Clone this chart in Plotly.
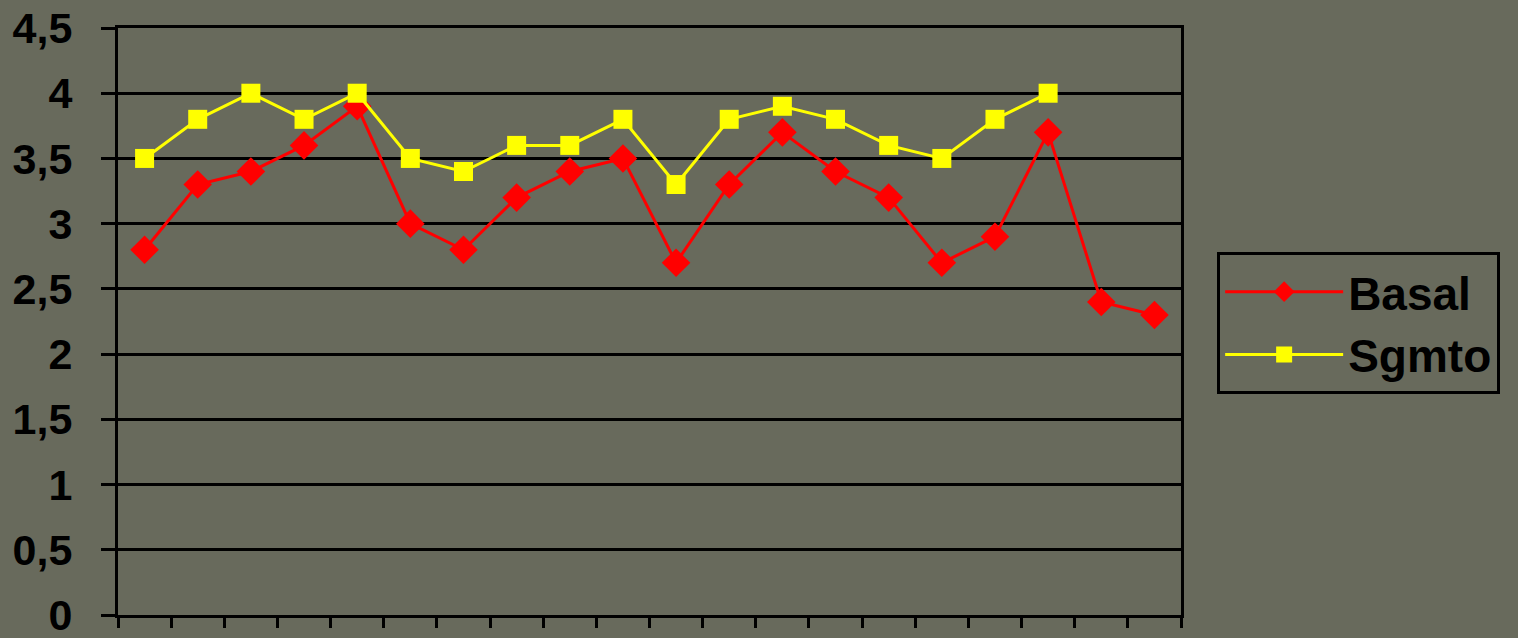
import plotly.graph_objects as go

categories = list(range(1, 21))
basal = [2.8, 3.3, 3.4, 3.6, 3.9, 3.0, 2.8, 3.2, 3.4, 3.5, 2.7, 3.3, 3.7, 3.4, 3.2, 2.7, 2.9, 3.7, 2.4, 2.3]
sgmto = [3.5, 3.8, 4.0, 3.8, 4.0, 3.5, 3.4, 3.6, 3.6, 3.8, 3.3, 3.8, 3.9, 3.8, 3.6, 3.5, 3.8, 4.0, None, None]
y_ticks = [0, 0.5, 1, 1.5, 2, 2.5, 3, 3.5, 4, 4.5]
y_labels = ["0", "0,5", "1", "1,5", "2", "2,5", "3", "3,5", "4", "4,5"]

BG = "#686A5C"
fig = go.Figure()
fig.add_trace(go.Scatter(
    x=categories, y=basal, name="Basal", mode="lines+markers",
    line=dict(color="#FF0000", width=3),
    marker=dict(symbol="diamond", size=22, color="#FF0000"),
))
fig.add_trace(go.Scatter(
    x=categories, y=sgmto, name="Sgmto", mode="lines+markers",
    line=dict(color="#FFFF00", width=3),
    marker=dict(symbol="square", size=19, color="#FFFF00"),
))

fig.update_layout(
    width=1518, height=638,
    paper_bgcolor=BG, plot_bgcolor=BG,
    margin=dict(l=118, r=337, t=28, b=23),
    font=dict(family="Liberation Sans, Arial", color="black"),
    showlegend=True,
    legend=dict(
        x=1.034, y=0.618, xanchor="left", yanchor="top",
        bgcolor=BG, bordercolor="black", borderwidth=3,
        font=dict(size=46, family="Liberation Sans, Arial", weight="bold"),
        itemwidth=118,
    ),
)
fig.update_xaxes(
    range=[0.5, 20.5], showgrid=False, zeroline=False, automargin=False,
    showline=True, linecolor="black", linewidth=3, mirror=True,
    tickmode="array", tickvals=[i + 0.5 for i in range(0, 21)],
    ticks="outside", ticklen=10, tickwidth=3, tickcolor="black",
    showticklabels=False,
)
fig.update_yaxes(
    range=[0, 4.5], tickmode="array", tickvals=y_ticks, ticktext=y_labels,
    showgrid=True, gridcolor="black", gridwidth=3, zeroline=False, automargin=False,
    showline=True, linecolor="black", linewidth=3, mirror=True,
    ticks="outside", ticklen=14, tickwidth=3, tickcolor="black",
    ticklabelstandoff=20, ticklabeloverflow="allow",
    tickfont=dict(size=43, family="Liberation Sans, Arial", weight="bold", color="black"),
)
fig.write_html(
    "out.html",
    config={"displayModeBar": False},
    post_script="document.body.style.margin='0';document.body.style.background='#686A5C';",
)
